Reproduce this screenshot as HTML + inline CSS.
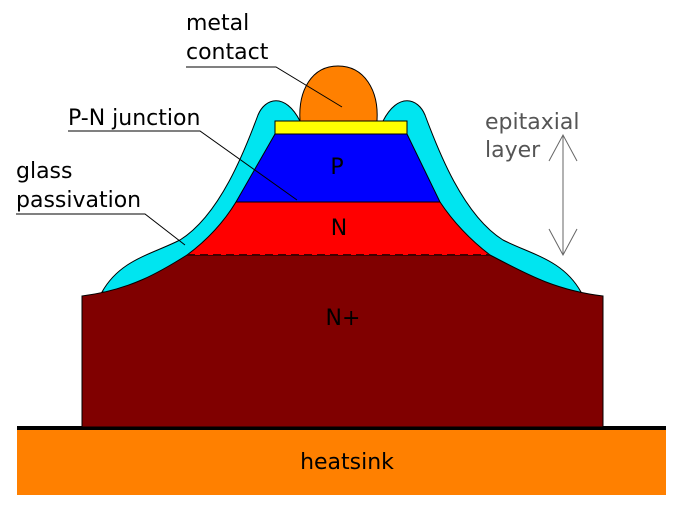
<!DOCTYPE html>
<html><head><style>
html,body{margin:0;padding:0;background:#fff;width:683px;height:512px;overflow:hidden}
text{font-family:"DejaVu Sans","Liberation Sans",sans-serif;font-size:22px}
</style></head><body>
<svg width="683" height="512" viewBox="0 0 683 512" xmlns="http://www.w3.org/2000/svg">
<rect x="17" y="430" width="649" height="65" fill="#ff8000"/>
<rect x="17" y="426" width="649" height="4" fill="#000"/>
<text x="347" y="469" text-anchor="middle" fill="#000">heatsink</text>
<path d="M102,292 C120,260 150,255 180,240 C220,215 245,150 258,115 C265,98 285,92 300,121 L383,121 C398,92 418,98 425,115 C438,150 463,215 503,240 C533,255 563,260 581,292 Z" fill="#00e5f0" stroke="#000" stroke-width="1"/>
<path d="M82,296 C130,290 160,272 187,255 L490,255 C523,272 553,290 603,296 L603,427 L82,427 Z" fill="#800000" stroke="#000" stroke-width="1"/>
<path d="M187,255 C210,238 225,220 236,202 L440,202 C452,220 468,238 490,255 Z" fill="#ff0000"/>
<path d="M187,255 C210,238 225,220 236,202 M440,202 C452,220 468,238 490,255" fill="none" stroke="#000" stroke-width="1"/>
<line x1="187" y1="255" x2="490" y2="255" stroke="#400000" stroke-width="2" stroke-dasharray="8,5"/>
<path d="M236,202 L275,134 L407,134 L440,202 Z" fill="#0000ff" stroke="#000" stroke-width="1"/>
<rect x="275" y="121" width="132" height="13" fill="#ffff00" stroke="#000" stroke-width="1"/>
<path d="M300,121 C298,90 312,66 338,66 C364,66 379,90 377,121 Z" fill="#ff8000" stroke="#000" stroke-width="1"/>
<text x="337" y="174" text-anchor="middle">P</text>
<text x="339" y="235" text-anchor="middle">N</text>
<text x="343" y="325" text-anchor="middle">N+</text>
<text x="186" y="30">metal</text>
<text x="186" y="59">contact</text>
<polyline points="186,67 276,67 342,107" fill="none" stroke="#000" stroke-width="1"/>
<text x="68" y="125">P-N junction</text>
<polyline points="68,131 200,131 297,200" fill="none" stroke="#000" stroke-width="1"/>
<text x="16" y="178">glass</text>
<text x="16" y="207">passivation</text>
<polyline points="16,214 145,214 185,245" fill="none" stroke="#000" stroke-width="1"/>
<text x="485" y="129" fill="#555">epitaxial</text>
<text x="485" y="157" fill="#555">layer</text>
<g stroke="#666" stroke-width="1" fill="none">
<line x1="563" y1="135" x2="563" y2="255"/>
<polyline points="549,161 563,135 577,161"/>
<polyline points="549,229 563,255 577,229"/>
</g>
</svg>
</body></html>
